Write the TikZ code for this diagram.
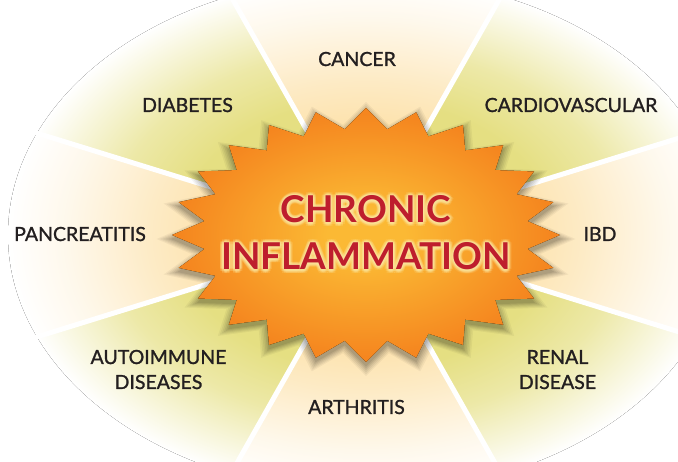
\documentclass[tikz,border=0pt]{standalone}
\usepackage{fontspec}
\setmainfont{Lato}
\newfontfamily\lblfont{Lato}[FakeBold=1.2]
\usetikzlibrary{calc}
\definecolor{khaki}{RGB}{229,223,130}
\definecolor{cream}{RGB}{252,221,158}
\definecolor{starin}{RGB}{251,185,52}
\definecolor{starout}{RGB}{245,134,31}
\definecolor{titlered}{RGB}{190,30,45}
\definecolor{labelc}{RGB}{35,31,32}
\definecolor{glowc}{RGB}{255,232,160}
\pgfdeclareradialshading{khakishade}{\pgfpointorigin}{color(0bp)=(khaki); color(13bp)=(khaki); color(18bp)=(khaki!70!white); color(22bp)=(khaki!30!white); color(25bp)=(white); color(50bp)=(white)}
\pgfdeclareradialshading{creamshade}{\pgfpointorigin}{color(0bp)=(cream); color(8bp)=(cream); color(15bp)=(cream!60!white); color(21bp)=(cream!20!white); color(25bp)=(white); color(50bp)=(white)}
\pgfdeclareradialshading{starshade}{\pgfpointorigin}{color(0bp)=(starin); color(5bp)=(starin); color(24bp)=(starout); color(50bp)=(starout)}
\tikzset{
  sepline/.style={white, line width=5pt},
  titletext/.style={font=\fontsize{37}{40}\selectfont\bfseries, text=titlered, inner sep=0pt, anchor=base},
  glowtext/.style={font=\fontsize{37}{40}\selectfont\bfseries, text=glowc, text opacity=0.16, inner sep=0pt, anchor=base},
  lbl/.style={font=\fontsize{19.5}{23}\selectfont\lblfont, text=labelc, inner sep=0pt, anchor=base},
}
\begin{document}
\begin{tikzpicture}[x=1pt,y=-1pt]
\useasboundingbox (0,0) rectangle (678,462);
\clip (0,0) rectangle (678,462);
\fill[white] (0,0) rectangle (678,462);
\coordinate (C) at (366,235);
% sectors
\foreach \a/\b/\sh in {-17.2/17.2/creamshade, 17.2/60.5/khakishade, 60.5/119.5/creamshade, 119.5/162.8/khakishade, 162.8/197.2/creamshade, 197.2/240.5/khakishade, 240.5/299.5/creamshade, 299.5/342.8/khakishade}{
  \begin{scope}
    \clip (C) -- ({366+900*cos(\a)},{235-900*sin(\a)}) -- ({366+900*cos((\a+\b)/2)},{235-900*sin((\a+\b)/2)}) -- ({366+900*cos(\b)},{235-900*sin(\b)}) -- cycle;
    \fill[shading=\sh] (C) ellipse [x radius=358, y radius=258];
  \end{scope}
}
% separator lines
\foreach \a in {17.2,60.5,119.5,162.8,197.2,240.5,299.5,342.8}{
  \draw[sepline] (C) -- ({366+700*cos(\a)},{235-700*sin(\a)});
}
% star shadow
\foreach \s/\op in {1.08/0.045, 1.065/0.05, 1.05/0.055, 1.035/0.06, 1.02/0.07, 1.005/0.08}{
  \fill[black, fill opacity=\op] ({366+194*\s},{239}) \foreach \k in {1,...,47}{ -- ({366+194*\s*(1-0.16*mod(\k,2))*cos(\k*7.5)},{239-127*\s*(1-0.16*mod(\k,2))*sin(\k*7.5)}) } -- cycle;
}
% star
\fill[shading=starshade] ({366+194},{235}) \foreach \k in {1,...,47}{ -- ({366+194*(1-0.16*mod(\k,2))*cos(\k*7.5)},{235-127*(1-0.16*mod(\k,2))*sin(\k*7.5)}) } -- cycle;
% title glow
\foreach \ang in {0,30,...,330}{
  \foreach \rr in {1.2,2.4,3.6}{
    \node[glowtext] at ([shift={(\ang:\rr)}]366,223) {CHRONIC};
    \node[glowtext] at ([shift={(\ang:\rr)}]366,270) {INFLAMMATION};
  }
}
\node[titletext] (chronic) at (366,223) {CHRONIC};
\node[titletext] (inflammation) at (366,270) {INFLAMMATION};
% labels
\node[lbl] (cancer) at (357,66) {CANCER};
\node[lbl] (diabetes) at (187.5,112) {DIABETES};
\node[lbl] (cardio) at (571,112) {CARDIOVASCULAR};
\node[lbl] (pancreatitis) at (80,241) {PANCREATITIS};
\node[lbl] (ibd) at (600,241) {IBD};
\node[lbl] (autoimmune) at (158.5,364) {AUTOIMMUNE};
\node[lbl] (diseases) at (158.5,389) {DISEASES};
\node[lbl] (renal) at (557.5,364) {RENAL};
\node[lbl] (disease) at (557.5,389) {DISEASE};
\node[lbl] (arthritis) at (356.5,414) {ARTHRITIS};
\end{tikzpicture}
\end{document}
